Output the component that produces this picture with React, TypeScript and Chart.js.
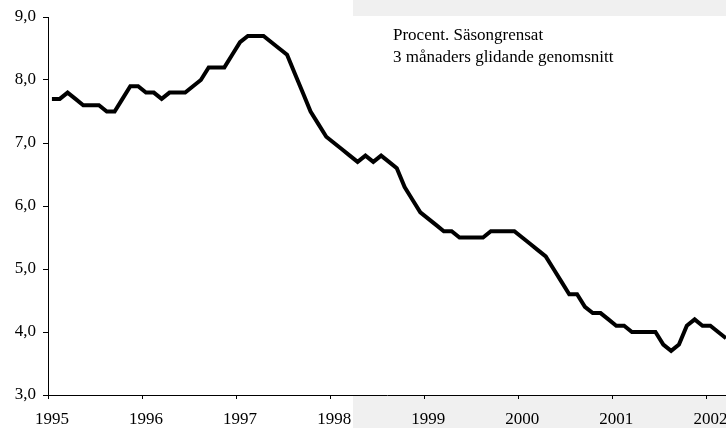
import React, { useEffect, useRef } from "react";
import { Chart, registerables } from "chart.js";

Chart.register(...registerables);

// Year tick labels (one tick at the start of each year)
const years = ["1995", "1996", "1997", "1998", "1999", "2000", "2001", "2002"];

// Monthly values (percent, seasonally adjusted, 3-month moving average)
const v1995 = [7.7, 7.7, 7.8, 7.7, 7.6, 7.6, 7.6, 7.5, 7.5, 7.7, 7.9, 7.9];
const v1996 = [7.8, 7.8, 7.7, 7.8, 7.8, 7.8, 7.9, 8.0, 8.2, 8.2, 8.2, 8.4];
const v1997 = [8.6, 8.7, 8.7, 8.7, 8.6, 8.5, 8.4, 8.1, 7.8, 7.5, 7.3, 7.1];
const v1998 = [7.0, 6.9, 6.8, 6.7, 6.8, 6.7, 6.8, 6.7, 6.6, 6.3, 6.1, 5.9];
const v1999 = [5.8, 5.7, 5.6, 5.6, 5.5, 5.5, 5.5, 5.5, 5.6, 5.6, 5.6, 5.6];
const v2000 = [5.5, 5.4, 5.3, 5.2, 5.0, 4.8, 4.6, 4.6, 4.4, 4.3, 4.3, 4.2];
const v2001 = [4.1, 4.1, 4.0, 4.0, 4.0, 4.0, 3.8, 3.7, 3.8, 4.1, 4.2, 4.1];
const v2002 = [4.1, 4.0, 3.9];

const yTickLabels = ["3,0", "4,0", "5,0", "6,0", "7,0", "8,0", "9,0"];
const noteLines = ["Procent. Säsongrensat", "3 månaders glidande genomsnitt"];

const FONT_FAMILY = '"Liberation Serif", "Times New Roman", serif';

export default function App() {
  const canvasRef = useRef<HTMLCanvasElement | null>(null);

  useEffect(() => {
    const canvas = canvasRef.current;
    if (!canvas) return;
    const values = [...v1995, ...v1996, ...v1997, ...v1998, ...v1999, ...v2000, ...v2001, ...v2002];
    const points = values.map((y, i) => ({ x: i + 0.5, y }));
    const font = { family: FONT_FAMILY, size: 17 };

    const chart = new Chart(canvas, {
      type: "line",
      data: {
        datasets: [
          {
            data: points,
            borderColor: "#000",
            borderWidth: 4,
            pointRadius: 0,
            tension: 0,
            borderJoinStyle: "miter",
            borderCapStyle: "butt",
            fill: false,
          },
        ],
      },
      options: {
        animation: false,
        responsive: false,
        devicePixelRatio: 1,
        layout: { padding: { top: 17, left: 0, right: 0, bottom: 0 } },
        plugins: { legend: { display: false }, tooltip: { enabled: false } },
        scales: {
          x: {
            type: "linear",
            min: 0,
            max: values.length - 0.5,
            afterBuildTicks: (s: any) => {
              s.ticks = years.map((_, i) => ({ value: i * 12 }));
            },
            afterFit: (s: any) => {
              s.height = 33;
              s.paddingLeft = 0;
              s.paddingRight = 0;
            },
            ticks: {
              callback: (v: any) => years[Math.round(Number(v) / 12)],
              font,
              color: "#000",
              padding: 10,
              labelOffset: 4,
              maxRotation: 0,
              autoSkip: false,
            },
            grid: { drawOnChartArea: false, drawTicks: true, tickLength: 4, color: "#000", lineWidth: 1 },
            border: { display: true, color: "#000", width: 1 },
          },
          y: {
            min: 3,
            max: 9,
            afterFit: (s: any) => {
              s.width = 48;
              s.paddingTop = 0;
              s.paddingBottom = 0;
            },
            ticks: {
              stepSize: 1,
              callback: (v: any) => yTickLabels[Math.round(Number(v) - 3)],
              font,
              color: "#000",
              padding: 7,
            },
            grid: { drawOnChartArea: false, drawTicks: true, tickLength: 5, color: "#000", lineWidth: 1 },
            border: { display: true, color: "#000", width: 1 },
          },
        },
      },
    } as any);
    return () => chart.destroy();
  }, []);

  return (
    <div style={{ position: "absolute", left: 0, top: 0, width: 726, height: 428, background: "#fff", overflow: "hidden" }}>
      <div style={{ position: "absolute", left: 353, top: 0, width: 373, height: 16, background: "#f0f0f0" }} />
      <div style={{ position: "absolute", left: 353, top: 396, width: 373, height: 32, background: "#f0f0f0" }} />
      <canvas ref={canvasRef} width={726} height={428} style={{ position: "absolute", left: 0, top: 0, width: 726, height: 428 }} />
      <div
        style={{
          position: "absolute",
          left: 393,
          top: 24,
          fontFamily: FONT_FAMILY,
          fontSize: 17,
          lineHeight: "22px",
          color: "#000",
          whiteSpace: "nowrap",
        }}
      >
        {noteLines.map((t) => (
          <div key={t}>{t}</div>
        ))}
      </div>
    </div>
  );
}
